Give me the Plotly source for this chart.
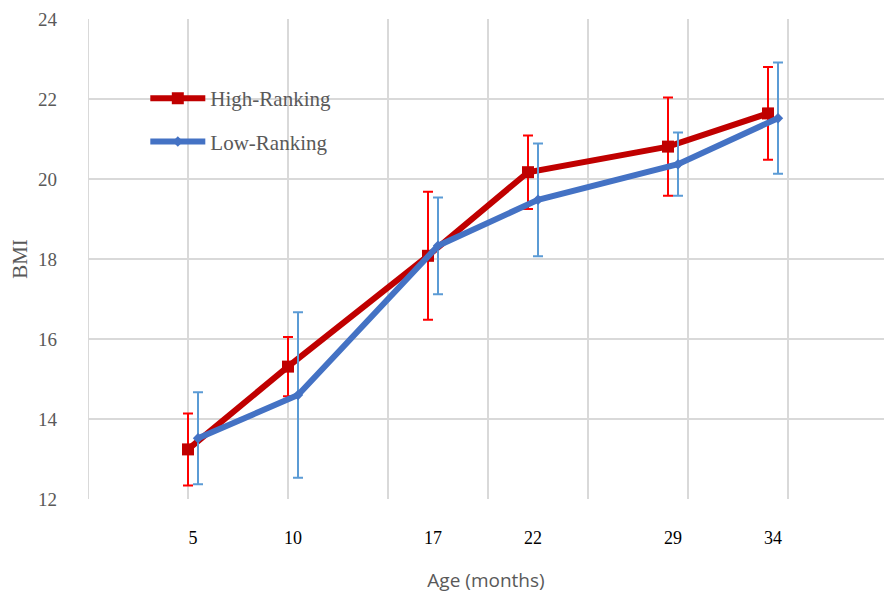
import plotly.graph_objects as go

ages = [5, 10, 17, 22, 29, 34]
age_labels = ["5", "10", "17", "22", "29", "34"]
high_bmi = [13.24, 15.31, 18.08, 20.17, 20.81, 21.64]
high_sd = [0.90, 0.74, 1.60, 0.92, 1.23, 1.16]
low_bmi = [13.52, 14.60, 18.33, 19.48, 20.37, 21.52]
low_sd = [1.15, 2.07, 1.21, 1.41, 0.79, 1.39]

high_offset = 0.0
low_offset = 0.5
label_offset = 0.25

serif = "Liberation Serif, Times New Roman, serif"

fig = go.Figure()
fig.add_trace(go.Scatter(
    x=[a + high_offset for a in ages], y=high_bmi, name="High-Ranking",
    legendgroup="h", mode="lines+markers",
    line=dict(color="#c00000", width=6),
    marker=dict(symbol="square", size=12, color="#c00000"),
    error_y=dict(type="data", array=high_sd, visible=True, color="#ff0000", thickness=2, width=5),
))
fig.add_trace(go.Scatter(
    x=[a + low_offset for a in ages], y=low_bmi, name="Low-Ranking",
    legendgroup="l", mode="lines+markers",
    line=dict(color="#4472c4", width=6),
    marker=dict(symbol="diamond", size=8, color="#4472c4"),
    error_y=dict(type="data", array=low_sd, visible=True, color="#5b9bd5", thickness=2, width=5),
))

fig.update_layout(
    width=884, height=603,
    margin=dict(l=88, r=0, t=19, b=104),
    paper_bgcolor="white", plot_bgcolor="white",
    showlegend=True,
    legend=dict(
        x=0.072, y=0.877, xanchor="left", yanchor="top",
        bgcolor="rgba(0,0,0,0)", font=dict(family=serif, size=21, color="#595959"),
        itemwidth=55, traceorder="grouped", tracegroupgap=13,
    ),
    xaxis=dict(
        range=[0, 39.8], showgrid=False, zeroline=False, showline=False,
        tickmode="array", tickvals=[a + label_offset for a in ages], ticktext=age_labels,
        ticks="", tickfont=dict(family=serif, size=18, color="#000000"),
        ticklabelstandoff=26,
        title=dict(text="Age (months)", font=dict(family="Open Sans, sans-serif", size=19, color="#595959"), standoff=26),
    ),
    yaxis=dict(
        range=[12, 24], dtick=2, showgrid=True, gridcolor="#d9d9d9", gridwidth=2,
        zeroline=False, showline=False, ticks="",
        tickfont=dict(family=serif, size=19, color="#595959"),
        ticklabelstandoff=30,
        title=dict(text="BMI", font=dict(family=serif, size=21, color="#595959"), standoff=4),
    ),
)

# vertical gridlines every 5 units of x
grid_x = [0, 5, 10, 15, 20, 25, 30, 35]
for gx in grid_x:
    fig.add_shape(type="line", xref="x", yref="paper", x0=gx, x1=gx, y0=0, y1=1,
                  line=dict(color="#d9d9d9", width=2), layer="below")

fig.write_html("out.html")
